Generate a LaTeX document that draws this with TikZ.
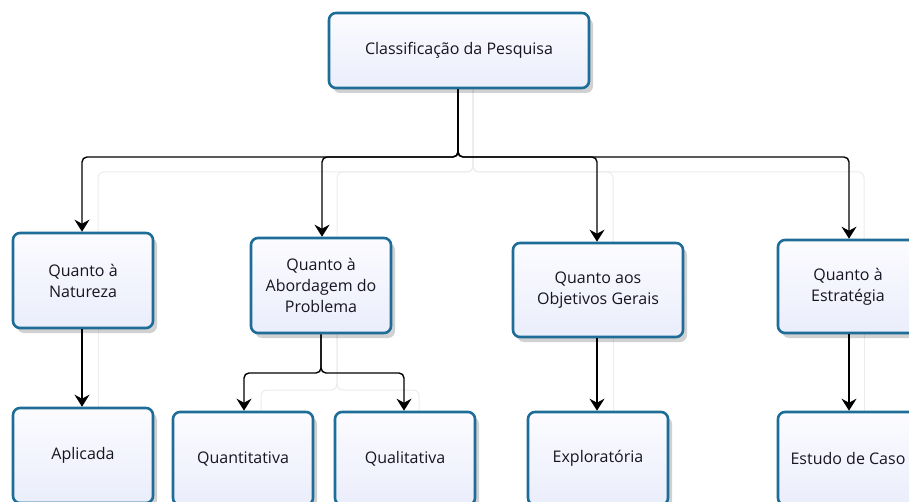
\documentclass[tikz,border=0pt]{standalone}
\usepackage{fontspec}
\setmainfont{Open Sans}
\usetikzlibrary{arrows.meta,shadows,calc}
\pgfdeclarelayer{background}
\pgfdeclarelayer{canvas}
\pgfsetlayers{canvas,background,main}
\definecolor{boxborder}{RGB}{30,108,152}
\definecolor{boxtop}{RGB}{252,252,255}
\definecolor{boxbot}{RGB}{234,237,251}
\definecolor{ghostline}{RGB}{236,236,236}
\definecolor{txt}{RGB}{25,20,35}
\tikzset{
  box/.style={draw=boxborder, line width=2.6pt, rounded corners=7pt,
    top color=boxtop, bottom color=boxbot,
    drop shadow={shadow xshift=4pt, shadow yshift=-5pt, opacity=0.18, fill=black},
    align=center, font=\fontsize{16}{21}\selectfont, text=txt, inner sep=0pt},
  conn/.style={draw=black, line width=1.4pt, rounded corners=5pt,
    -{Stealth[length=12pt, width=15pt, inset=4pt]}},
  ghost/.style={draw=ghostline, line width=1pt, rounded corners=6pt}
}
\begin{document}
\begin{tikzpicture}[x=1pt, y=-1pt]
\clip (0,0) rectangle (909,502);
\begin{pgfonlayer}{canvas}
\fill[white] (0,0) rectangle (909,502);
\end{pgfonlayer}
\coordinate (bus) at (0,157);
\coordinate (bus2) at (0,373);
% level 0
\node[box, minimum width=260pt, minimum height=75pt] (top) at (459,50.5) {Classificação da Pesquisa};
% level 1
\node[box, minimum width=140pt, minimum height=95pt] (nat) at (83,280.5) {Quanto à\\Natureza};
\node[box, minimum width=140pt, minimum height=95pt] (abo) at (321,285.5) {Quanto à\\Abordagem do\\Problema};
\node[box, minimum width=170pt, minimum height=94pt] (obj) at (598,290) {Quanto aos\\Objetivos Gerais};
\node[box, minimum width=140pt, minimum height=93pt] (est) at (848,286.5) {Quanto à\\Estratégia};
% level 2
\node[box, minimum width=140pt, minimum height=95pt] (apl) at (83,455.5) {Aplicada};
\node[box, minimum width=140pt, minimum height=93pt] (qnt) at (243,458.5) {Quantitativa};
\node[box, minimum width=140pt, minimum height=93pt] (qlt) at (405,458.5) {Qualitativa};
\node[box, minimum width=140pt, minimum height=93pt] (exp) at (598,458.5) {Exploratória};
\node[box, minimum width=140pt, minimum height=93pt] (cas) at (848,458.5) {Estudo de Caso};
% faint ghost connectors
\begin{pgfonlayer}{background}
\coordinate (gbus) at (0,172);
\coordinate (gbus2) at (0,390);
\draw[ghost] ([xshift=14pt]top.south) -- ([xshift=14pt]top.south |- gbus) -| ([xshift=15pt]nat.north);
\draw[ghost] ([xshift=14pt]top.south) -- ([xshift=14pt]top.south |- gbus) -| ([xshift=16pt]abo.north);
\draw[ghost] ([xshift=14pt]top.south) -- ([xshift=14pt]top.south |- gbus) -| ([xshift=15pt]obj.north);
\draw[ghost] ([xshift=14pt]top.south) -- ([xshift=14pt]top.south |- gbus) -| ([xshift=16pt]est.north);
\draw[ghost] ([xshift=15pt]nat.south) -- ([xshift=15pt]apl.north);
\draw[ghost] ([xshift=16pt]abo.south) -- ([xshift=16pt]abo.south |- gbus2) -| ([xshift=18pt]qnt.north);
\draw[ghost] ([xshift=16pt]abo.south) -- ([xshift=16pt]abo.south |- gbus2) -| ([xshift=14pt]qlt.north);
\draw[ghost] ([xshift=15pt]obj.south) -- ([xshift=15pt]exp.north);
\draw[ghost] ([xshift=16pt]est.south) -- ([xshift=16pt]cas.north);
\end{pgfonlayer}
% connectors
\draw[conn] ([xshift=-1pt]top.south) -- ([xshift=-1pt]top.south |- bus) -| ([xshift=-1pt]nat.north);
\draw[conn] ([xshift=-1pt]top.south) -- ([xshift=-1pt]top.south |- bus) -| ([xshift=1pt]abo.north);
\draw[conn] ([xshift=-1pt]top.south) -- ([xshift=-1pt]top.south |- bus) -| ([xshift=-1pt]obj.north);
\draw[conn] ([xshift=-1pt]top.south) -- ([xshift=-1pt]top.south |- bus) -| ([xshift=1pt]est.north);
\draw[conn] ([xshift=-1pt]nat.south) -- ([xshift=-1pt]apl.north);
\draw[conn] (abo.south) -- (abo.south |- bus2) -| ([xshift=1pt]qnt.north);
\draw[conn] (abo.south) -- (abo.south |- bus2) -| ([xshift=-1pt]qlt.north);
\draw[conn] ([xshift=-1pt]obj.south) -- ([xshift=-1pt]exp.north);
\draw[conn] ([xshift=1pt]est.south) -- ([xshift=1pt]cas.north);
\end{tikzpicture}
\end{document}
